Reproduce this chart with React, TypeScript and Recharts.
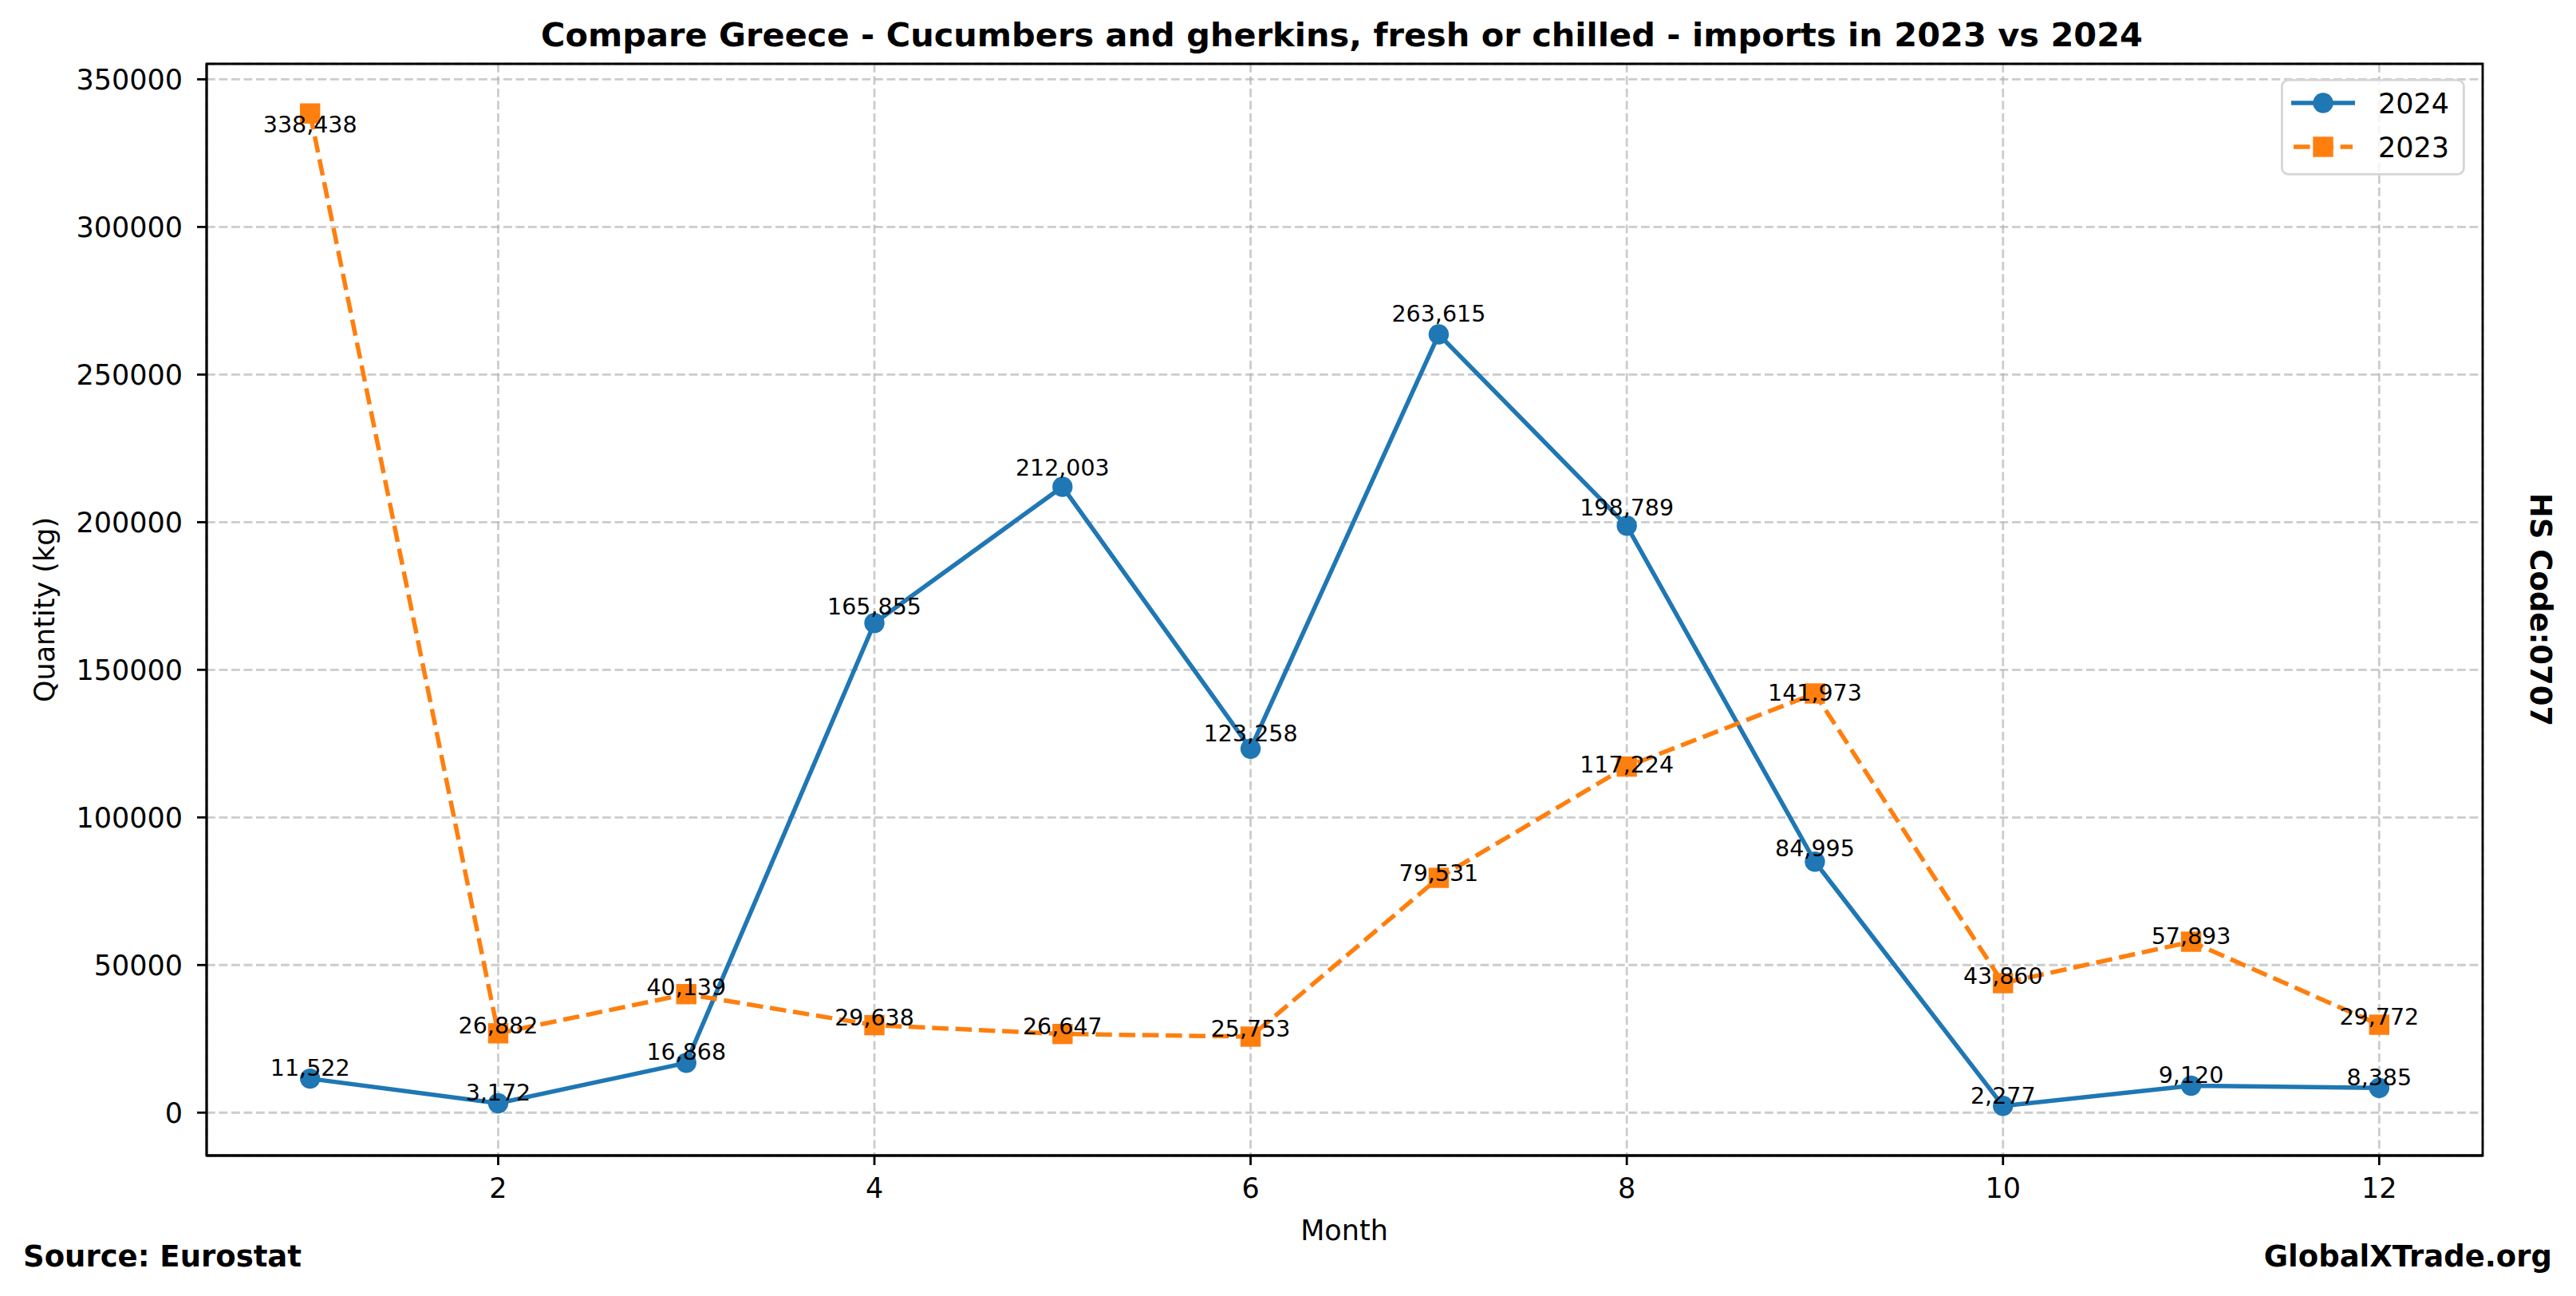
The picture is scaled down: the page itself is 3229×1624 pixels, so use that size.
import React from "react";
import {
  CartesianGrid,
  LabelList,
  Legend,
  Line,
  LineChart,
  ReferenceArea,
  XAxis,
  YAxis,
} from "recharts";

// values
const months = [1, 2, 3, 4, 5, 6, 7, 8, 9, 10, 11, 12];
const imports2024 = [11522, 3172, 16868, 165855, 212003, 123258, 263615, 198789, 84995, 2277, 9120, 8385];
const imports2023 = [338438, 26882, 40139, 29638, 26647, 25753, 79531, 117224, 141973, 43860, 57893, 29772];
const xTicks = [2, 4, 6, 8, 10, 12];
const yTicks = [0, 50000, 100000, 150000, 200000, 250000, 300000, 350000];

const data = months.map((m, i) => ({
  month: m,
  y2024: imports2024[i],
  y2023: imports2023[i],
}));

const W = 3229;
const H = 1624;
const FONT = "'DejaVu Sans', sans-serif";
const BLUE = "#1f77b4";
const ORANGE = "#ff7f0e";
const LW = 5.5;
const DASH = "20.5 8.8";
const MARK = 25.4;

// matplotlib style 5% padding around the data
const X_MIN = 0.45;
const X_MAX = 12.55;
const Y_MIN = -14531;
const Y_MAX = 355246;

const PLOT_TOP = 80;
const PLOT_BOTTOM = 1448;
const PPU = (PLOT_BOTTOM - PLOT_TOP) / (Y_MAX - Y_MIN);

const fmt = (v: number) => v.toLocaleString("en-US");

// labels sit a little above (2024) or below (2023) the point, relative to its value
const label2024 = (props: any) => {
  const { x, y, value } = props;
  const by = y - (2.85 + 0.0135 * value * PPU);
  return (
    <text x={x} y={by} textAnchor="middle" fontSize={28.5} fontFamily={FONT} fill="#000">
      {fmt(value)}
    </text>
  );
};

const label2023 = (props: any) => {
  const { x, y, value } = props;
  const by = y + (0.0208 * value * PPU - 2);
  return (
    <text x={x} y={by} textAnchor="middle" fontSize={28.5} fontFamily={FONT} fill="#000">
      {fmt(value)}
    </text>
  );
};

const SquareDot = (props: any) => {
  const { cx, cy, index } = props;
  if (cx == null || cy == null) return null;
  return <rect key={`sq-${index}`} x={cx - MARK / 2} y={cy - MARK / 2} width={MARK} height={MARK} fill={ORANGE} />;
};

const renderLegend = () => (
  <svg width={231} height={121} style={{ display: "block" }}>
    <rect x={1.4} y={1.4} width={228} height={118} rx={8} fill="#fff" fillOpacity={0.8} stroke="#d6d6d6" strokeWidth={2.8} />
    <line x1={13} y1={30} x2={93} y2={30} stroke={BLUE} strokeWidth={LW} />
    <circle cx={53} cy={30} r={MARK / 2} fill={BLUE} />
    <text x={122} y={42.5} fontSize={35} fontFamily={FONT} fill="#000">2024</text>
    <line x1={16} y1={85} x2={90} y2={85} stroke={ORANGE} strokeWidth={LW} strokeDasharray={DASH} />
    <rect x={53 - MARK / 2} y={85 - MARK / 2} width={MARK} height={MARK} fill={ORANGE} />
    <text x={122} y={97.5} fontSize={35} fontFamily={FONT} fill="#000">2023</text>
  </svg>
);

export default function App() {
  const tickStyle = { fontSize: 35, fill: "#000", fontFamily: FONT };
  return (
    <div style={{ position: "absolute", left: 0, top: 0, width: W, height: H, background: "#fff", fontFamily: FONT }}>
      <LineChart
        width={W}
        height={H}
        data={data}
        margin={{ top: PLOT_TOP, right: 117, bottom: 76, left: 59 }}
      >
        <CartesianGrid stroke="#b0b0b0" strokeOpacity={0.65} strokeWidth={2.8} strokeDasharray="10.8 4.7" />
        <XAxis
          dataKey="month"
          type="number"
          domain={[X_MIN, X_MAX]}
          ticks={xTicks}
          allowDataOverflow
          height={100}
          tick={tickStyle}
          tickSize={12}
          tickMargin={16}
          axisLine={{ stroke: "#000", strokeWidth: 2.8 }}
          tickLine={{ stroke: "#000", strokeWidth: 2.8 }}
        />
        <YAxis
          type="number"
          domain={[Y_MIN, Y_MAX]}
          ticks={yTicks}
          allowDataOverflow
          width={200}
          tick={tickStyle}
          tickSize={12}
          tickMargin={18}
          tickFormatter={(v: number) => String(v)}
          axisLine={{ stroke: "#000", strokeWidth: 2.8 }}
          tickLine={{ stroke: "#000", strokeWidth: 2.8 }}
        />
        <ReferenceArea
          x1={X_MIN}
          x2={X_MAX}
          y1={Y_MIN}
          y2={Y_MAX}
          fill="none"
          fillOpacity={0}
          stroke="#000"
          strokeWidth={2.8}
          strokeOpacity={1}
        />
        <Line
          dataKey="y2024"
          name="2024"
          stroke={BLUE}
          strokeWidth={LW}
          dot={{ r: MARK / 2, fill: BLUE, stroke: "none" }}
          activeDot={false}
          isAnimationActive={false}
        >
          <LabelList dataKey="y2024" content={label2024} />
        </Line>
        <Line
          dataKey="y2023"
          name="2023"
          stroke={ORANGE}
          strokeWidth={LW}
          strokeDasharray={DASH}
          dot={SquareDot}
          activeDot={false}
          isAnimationActive={false}
        >
          <LabelList dataKey="y2023" content={label2023} />
        </Line>
        <Legend
          layout="vertical"
          align="center"
          verticalAlign="middle"
          wrapperStyle={{ left: 2859, top: 99, width: 231, height: 121 }}
          content={renderLegend}
        />
      </LineChart>
      <svg
        width={W}
        height={H}
        style={{ position: "absolute", left: 0, top: 0, pointerEvents: "none" }}
      >
        <text x={1682} y={58} textAnchor="middle" fontSize={41.5} fontWeight="bold" fontFamily={FONT} fill="#000">
          Compare Greece - Cucumbers and gherkins, fresh or chilled - imports in 2023 vs 2024
        </text>
        <text x={1685} y={1554} textAnchor="middle" fontSize={35} fontFamily={FONT} fill="#000">
          Month
        </text>
        <text
          x={0}
          y={0}
          transform="translate(68 764) rotate(-90)"
          textAnchor="middle"
          fontSize={35}
          fontFamily={FONT}
          fill="#000"
        >
          Quantity (kg)
        </text>
        <text
          x={0}
          y={0}
          transform="translate(3172 764) rotate(90)"
          textAnchor="middle"
          fontSize={37}
          fontWeight="bold"
          fontFamily={FONT}
          fill="#000"
        >
          HS Code:0707
        </text>
        <text x={29} y={1587} fontSize={37} fontWeight="bold" fontFamily={FONT} fill="#000">
          Source: Eurostat
        </text>
        <text x={3199} y={1587} textAnchor="end" fontSize={37} fontWeight="bold" fontFamily={FONT} fill="#000">
          GlobalXTrade.org
        </text>
      </svg>
    </div>
  );
}
